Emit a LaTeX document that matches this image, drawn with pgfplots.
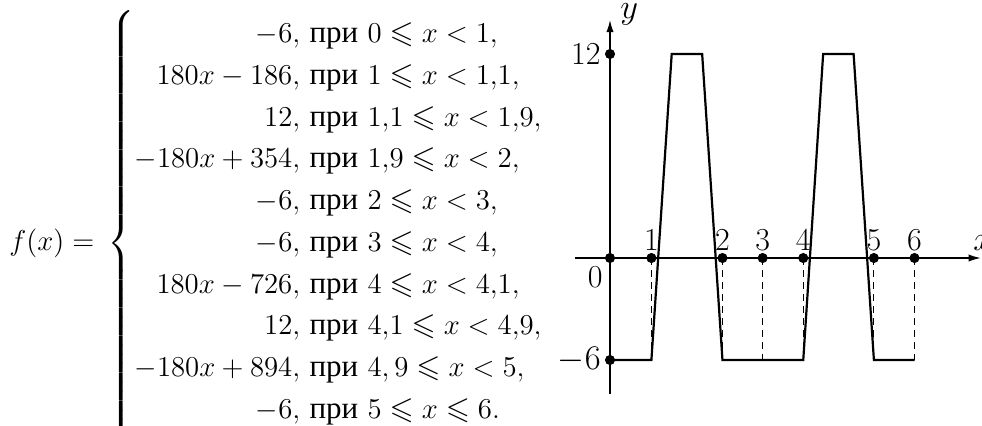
\documentclass[border=0pt]{standalone}
\usepackage{amsmath,amssymb}
\usepackage{fontspec}
\usepackage{pgfplots}
\pgfplotsset{compat=1.18}
\usetikzlibrary{arrows.meta}
\newfontfamily\cyr{Liberation Serif}
\newcommand{\pri}{\text{\cyr при}}
\newcommand{\gfont}{\fontsize{16}{19.2}\selectfont}
\begin{document}
\begin{tikzpicture}[x=0.5pt,y=0.5pt]
\path[use as bounding box] (0,0) rectangle (982,425);
\node[anchor=west, inner sep=0pt, font=\fontsize{15.5}{18.6}\selectfont] at (9,182) {$\displaystyle f(x)=\,\left\{\vrule height 117pt depth 109pt width 0pt\renewcommand{\arraystretch}{1.121}\begin{array}{@{}r@{\ }l@{}}
-6, & \pri\ 0\leqslant x<1,\\
180x-186, & \pri\ 1\leqslant x<1{,}1,\\
12, & \pri\ 1{,}1\leqslant x<1{,}9,\\
-180x+354, & \pri\ 1{,}9\leqslant x<2,\\
-6, & \pri\ 2\leqslant x<3,\\
-6, & \pri\ 3\leqslant x<4,\\
180x-726, & \pri\ 4\leqslant x<4{,}1,\\
12, & \pri\ 4{,}1\leqslant x<4{,}9,\\
-180x+894, & \pri\ 4,9\leqslant x<5,\\
-6, & \pri\ 5\leqslant x\leqslant 6.\\
{} & {}
\end{array}\right.$};
\begin{axis}[anchor=origin, at={(305pt,83.5pt)}, x=20.3pt, y=8.5pt,
  hide axis, clip=false, xmin=-1, xmax=9.5, ymin=-9, ymax=15]
\draw[line width=0.65pt, -{Latex[length=6pt,width=3.6pt]}] (axis cs:-0.86,0) -- (axis cs:9.13,0);
\draw[line width=0.65pt, -{Latex[length=6pt,width=3.6pt]}] (axis cs:0,-8) -- (axis cs:0,14);
\addplot[black, line width=0.5pt, dash pattern=on 3.5pt off 2.5pt, unbounded coords=jump] coordinates {
(1.02,0) (1.02,-6) (1.02,nan)
(2.77,0) (2.77,-6) (2.77,nan)
(3.76,0) (3.76,-6) (3.76,nan)
(4.76,0) (4.76,-6) (4.76,nan)
(6.5,0) (6.5,-6) (6.5,nan)
(7.5,0) (7.5,-6)
};
\addplot[black, line width=1.1pt, mark=none] coordinates {
(0,-6) (1.02,-6) (1.52,12) (2.27,12) (2.77,-6) (3.76,-6) (4.76,-6) (5.25,12) (6.0,12) (6.5,-6) (7.5,-6)
};
\addplot[black, only marks, mark=*, mark size=2.3pt, nodes near coords, point meta=explicit symbolic,
  nodes near coords style={anchor=base, inner sep=0pt, yshift=4pt, font=\gfont}] coordinates {
(1.02,0) [1] (2.77,0) [2] (3.76,0) [3] (4.76,0) [4] (6.5,0) [5] (7.5,0) [6]
};
\addplot[black, only marks, mark=*, mark size=2.3pt, nodes near coords, point meta=explicit symbolic,
  nodes near coords style={anchor=east, inner sep=0pt, xshift=-4.5pt, font=\gfont}] coordinates {
(0,12) [12] (0,-6) [{$-6$}]
};
\addplot[black, only marks, mark=*, mark size=2.3pt, nodes near coords, point meta=explicit symbolic,
  nodes near coords style={anchor=north east, inner sep=0pt, xshift=-3.5pt, yshift=-4pt, font=\gfont}] coordinates {
(0,0) [0]
};
\node[anchor=west, inner sep=0pt, font=\gfont] at (axis cs:0,14) [xshift=5pt, yshift=3pt] {$y$};
\node[anchor=base west, inner sep=0pt, font=\gfont] at (axis cs:8.94,0) [yshift=4pt] {$x$};
\end{axis}
\end{tikzpicture}
\end{document}
